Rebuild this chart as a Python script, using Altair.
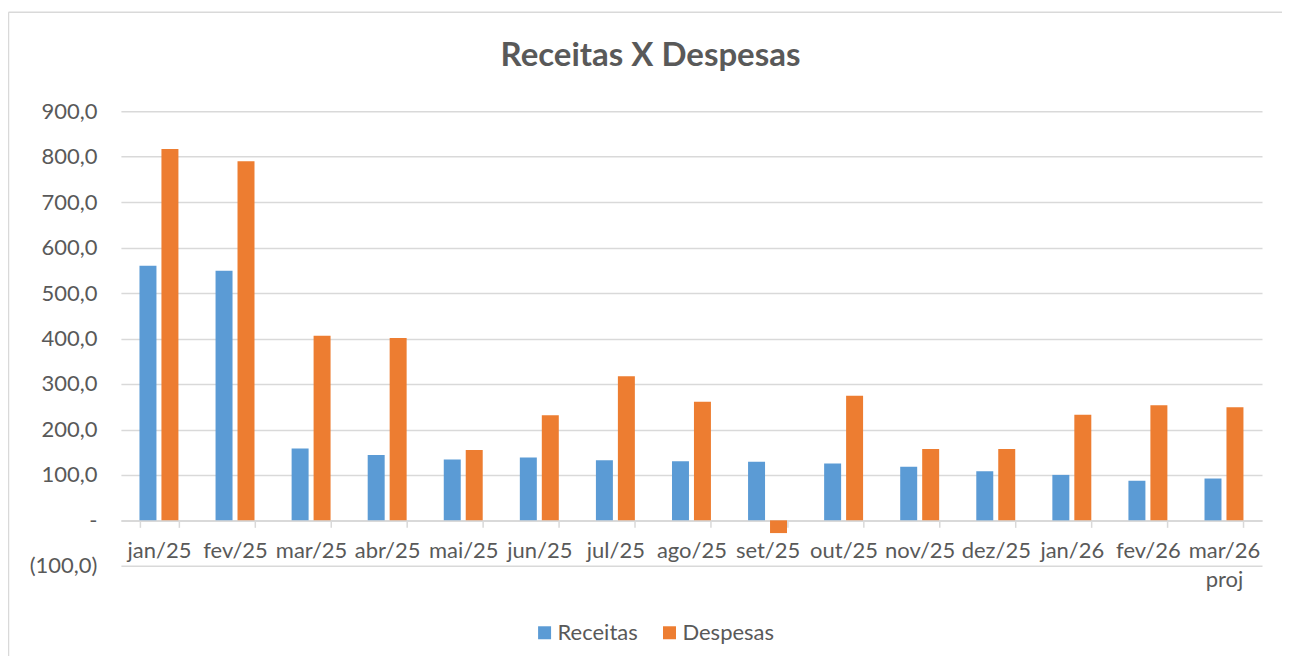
import altair as alt
import pandas as pd

categories = ["jan/25", "fev/25", "mar/25", "abr/25", "mai/25", "jun/25", "jul/25",
              "ago/25", "set/25", "out/25", "nov/25", "dez/25", "jan/26", "fev/26",
              "mar/26 proj"]
receitas = [560, 549, 158, 144, 134, 138, 132, 130, 129, 125, 118, 108, 100, 87, 92]
despesas = [817, 790, 406, 401, 155, 231, 317, 261, -28, 274, 157, 157, 232, 253, 249]
series = ["Receitas", "Despesas"]
colors = ["#5B9BD5", "#ED7D31"]
y_ticks = [-100, 0, 100, 200, 300, 400, 500, 600, 700, 800, 900]

rows = []
for c, r, d in zip(categories, receitas, despesas):
    rows.append({"mes": c, "serie": "Receitas", "valor": r})
    rows.append({"mes": c, "serie": "Despesas", "valor": d})
df = pd.DataFrame(rows)

FONT = "Lato"
GREY = "#595959"
LINE = "#d9d9d9"
NB = "\u00a0"

y_label_expr = (
    "datum.value == 0 ? '-" + NB * 4 + "' : (datum.value < 0 ? '(' + replace(format(-datum.value, '.1f'), '.', ',') + ')'"
    " : replace(format(datum.value, '.1f'), '.', ',') + '" + NB + "')"
)

bars = alt.Chart(df).mark_bar().encode(
    x=alt.X("mes:N", sort=categories,
            scale=alt.Scale(paddingInner=0.488, paddingOuter=0.244),
            axis=alt.Axis(title=None, labelAngle=0, labelOverlap=False,
                          labelExpr="split(datum.label, ' ')",
                          labelFont=FONT, labelFontSize=22, labelColor=GREY,
                          labelPadding=13, labelLineHeight=29,
                          domainColor=LINE, domainWidth=1.5,
                          tickColor=LINE, tickWidth=1.5, tickSize=7,
                          tickBand="extent", grid=False, offset=-45.5)),
    xOffset=alt.XOffset("serie:N", sort=series,
                        scale=alt.Scale(paddingInner=0.227, paddingOuter=0)),
    y=alt.Y("valor:Q", scale=alt.Scale(domain=[-100, 900], nice=False),
            axis=alt.Axis(title=None, values=y_ticks, labelExpr=y_label_expr,
                          grid=True, gridColor=LINE, gridWidth=1.5,
                          domain=False, ticks=False,
                          labelFont=FONT, labelFontSize=22, labelColor=GREY,
                          labelPadding=24)),
    color=alt.Color("serie:N", sort=series,
                    scale=alt.Scale(domain=series, range=colors),
                    legend=alt.Legend(title=None, orient="none", direction="horizontal",
                                      legendX=413, legendY=511, padding=0,
                                      symbolType="square", symbolSize=169,
                                      symbolStrokeWidth=0, labelOffset=2,
                                      columnPadding=20,
                                      labelFont=FONT, labelFontSize=22,
                                      labelColor=GREY)),
)

one = pd.DataFrame({"a": [0]})
frame_top = alt.Chart(one).mark_rule(stroke=LINE, strokeWidth=1.5).encode(
    x=alt.value(-112.5), x2=alt.value(1300), y=alt.value(-99),
)
frame_left = alt.Chart(one).mark_rule(stroke=LINE, strokeWidth=1.5).encode(
    x=alt.value(-112.5), y=alt.value(-99), y2=alt.value(700),
)

chart = alt.layer(frame_top, frame_left, bars).properties(
    width=1142, height=455,
    autosize=alt.AutoSizeParams(type="none"),
    padding={"left": 113, "top": 103, "right": 20, "bottom": 90},
    title=alt.TitleParams("Receitas X Despesas", font=FONT, fontSize=33,
                          fontWeight="bold", color=GREY, anchor="middle",
                          dx=-41, offset=-62),
).configure_view(strokeWidth=0)

chart.save("out.html", embed_options={"renderer": "svg", "actions": False})
